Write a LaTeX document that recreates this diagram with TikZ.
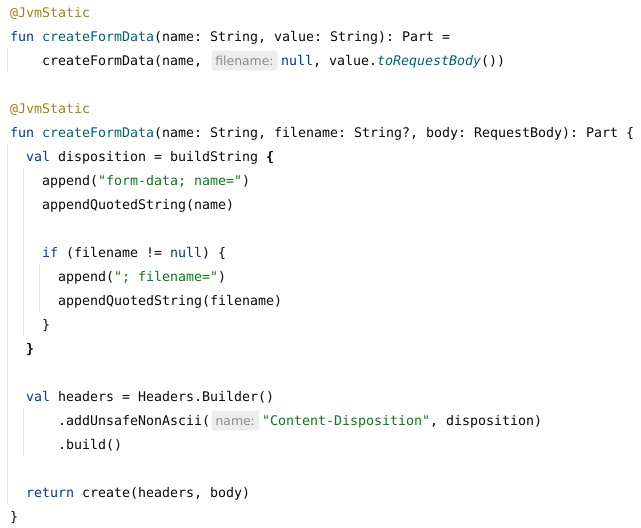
\documentclass[tikz,border=0pt]{standalone}
\usepackage{fontspec}
\newfontfamily\codefont{DejaVu Sans Mono}
\newfontfamily\hintfont{DejaVu Sans}
\definecolor{deftext}{HTML}{080808}
\definecolor{kwcol}{HTML}{0033B3}
\definecolor{fncol}{HTML}{00627A}
\definecolor{strcol}{HTML}{067D17}
\definecolor{anncol}{HTML}{9E880D}
\definecolor{hinttext}{HTML}{8A8A8A}
\definecolor{hintbg}{HTML}{EDEDED}
\definecolor{guidecol}{HTML}{E6E6E6}
\newcommand\kwd[1]{\textcolor{kwcol}{#1}}
\newcommand\fdecl[1]{\textcolor{fncol}{#1}}
\newcommand\cext[1]{\textcolor{fncol}{\itshape #1}}
\newcommand\cstr[1]{\textcolor{strcol}{#1}}
\newcommand\cann[1]{\textcolor{anncol}{#1}}
\frenchspacing
\tikzset{
  code/.style={anchor=base west, inner sep=0pt, text=deftext,
    font=\codefont\fontsize{13.29pt}{16pt}\selectfont\frenchspacing},
  hintbox/.style={fill=hintbg, rounded corners=3pt, inner sep=0pt, minimum height=20pt},
  hinttxt/.style={anchor=base, inner sep=0pt, text=hinttext,
    font=\hintfont\fontsize{12.4pt}{14pt}\selectfont},
  guide/.style={draw=guidecol, line width=1pt}
}
\begin{document}
\begin{tikzpicture}[x=1pt,y=-1pt]
\useasboundingbox[fill=white] (0,0) rectangle (641,528);
% indent guides
\draw[guide] (7.5,48) -- (7.5,72);
\draw[guide] (7.5,144) -- (7.5,504);
\draw[guide] (23.5,168) -- (23.5,336);
\draw[guide] (39.5,264) -- (39.5,312);
\draw[guide] (23.5,408) -- (23.5,456);
% code
\node[code] (l0) at (10,17) {\cann{@JvmStatic}};
\node[code] (l1) at (10,41) {\kwd{fun} \fdecl{createFormData}(name: String, value: String): Part =};
\node[code] (l2a) at (42,65) {createFormData(name,};
\node[hintbox, minimum width=66pt] (h1) at (244.5,60.5) {};
\node[hinttxt] (h1t) at (244.5,65) {filename:};
\node[code] (l2b) at (281,65) {\kwd{null}, value.\cext{toRequestBody}())};
\node[code] (l4) at (10,113) {\cann{@JvmStatic}};
\node[code] (l5) at (10,137) {\kwd{fun} \fdecl{createFormData}(name: String, filename: String?, body: RequestBody): Part \{};
\node[code] (l6) at (26,161) {\kwd{val} disposition = buildString \textbf{\{}};
\node[code] (l7) at (42,185) {append(\cstr{"form-data; name="})};
\node[code] (l8) at (42,209) {appendQuotedString(name)};
\node[code] (l10) at (42,257) {\kwd{if} (filename != \kwd{null}) \{};
\node[code] (l11) at (58,281) {append(\cstr{"; filename="})};
\node[code] (l12) at (58,305) {appendQuotedString(filename)};
\node[code] (l13) at (42,329) {\}};
\node[code] (l14) at (26,353) {\textbf{\}}};
\node[code] (l16) at (26,401) {\kwd{val} headers = Headers.Builder()};
\node[code] (l17a) at (58,425) {.addUnsafeNonAscii(};
\node[hintbox, minimum width=47.5pt] (h2) at (235.25,420.5) {};
\node[hinttxt] (h2t) at (235.25,425) {name:};
\node[code] (l17b) at (262,425) {\cstr{"Content-Disposition"}, disposition)};
\node[code] (l18) at (58,449) {.build()};
\node[code] (l20) at (26,497) {\kwd{return} create(headers, body)};
\node[code] (l21) at (10,521) {\}};
\end{tikzpicture}
\end{document}
